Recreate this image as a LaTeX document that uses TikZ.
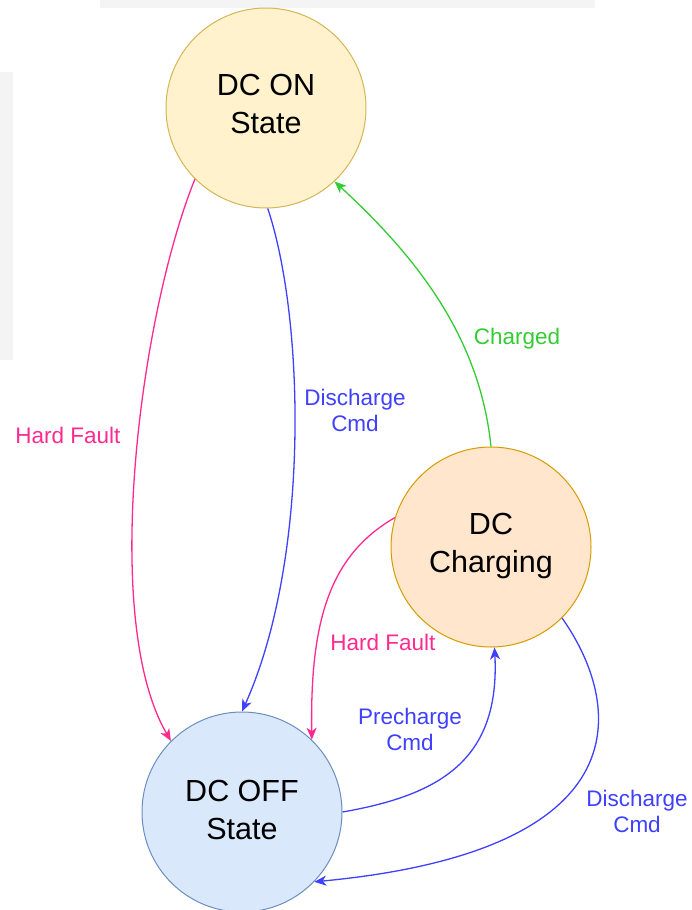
\documentclass[tikz,border=0pt]{standalone}
\usepackage{fontspec}
\setmainfont{Liberation Sans}
\usetikzlibrary{arrows.meta}
\definecolor{onfill}{HTML}{FFF2CC}
\definecolor{ondraw}{HTML}{D6B656}
\definecolor{offfill}{HTML}{DAE8FC}
\definecolor{offdraw}{HTML}{6C8EBF}
\definecolor{chfill}{HTML}{FFE6CC}
\definecolor{chdraw}{HTML}{D79B00}
\definecolor{pinkc}{HTML}{FF2A90}
\definecolor{bluec}{HTML}{4040FF}
\definecolor{greenc}{HTML}{33CC33}
\definecolor{shadowc}{HTML}{F4F4F4}
\tikzset{
  state/.style={circle, minimum size=200pt, inner sep=0pt, line width=1pt},
  statetext/.style={align=center, inner sep=0pt, font=\fontsize{30.5}{38}\selectfont},
  conn/.style={line width=1.3pt, -{Stealth[length=12pt,width=10pt,inset=3.5pt]}},
  lbl/.style={align=center, inner sep=0pt, font=\fontsize{22.5}{26}\selectfont}
}
\begin{document}
\begin{tikzpicture}[x=1pt,y=-1pt]
\useasboundingbox (0,0) rectangle (692,910);
\fill[white] (0,0) rectangle (692,910);
% faint background shadows
\fill[shadowc] (100,0) rectangle (595,8);
\fill[shadowc] (0,72) rectangle (13,360);
% states
\node[state, fill=onfill, draw=ondraw] (on) at (266,108) {};
\node[state, fill=offfill, draw=offdraw] (off) at (242,812) {};
\node[state, fill=chfill, draw=chdraw] (ch) at (491,547) {};
\node[statetext] (ont) at (266,104) {DC ON\\State};
\node[statetext] (offt) at (242,809.5) {DC OFF\\State};
\node[statetext] (cht) at (491,546) {DC\\Charging};
% connectors
\draw[conn, pinkc] (on.225) .. controls (140,315) and (100,620) .. (off.135);
\draw[conn, bluec] (on.271) .. controls (305,320) and (310,560) .. (off.90);
\draw[conn, greenc] (ch.90) .. controls (480,340) and (420,260) .. (on.313);
\draw[conn, pinkc] (ch.163) .. controls (330,555) and (310,620) .. (off.46);
\draw[conn, bluec] (off.0) .. controls (440,795) and (500,760) .. (ch.272);
\draw[conn, bluec] (ch.315) .. controls (620,700) and (650,850) .. (off.316);
% labels
\node[lbl, text=pinkc] (l1) at (68,435) {Hard Fault};
\node[lbl, text=bluec] (l2) at (355,410) {Discharge\\Cmd};
\node[lbl, text=greenc] (l3) at (517,339) {Charged};
\node[lbl, text=pinkc] (l4) at (383,642) {Hard Fault};
\node[lbl, text=bluec] (l5) at (410,729) {Precharge\\Cmd};
\node[lbl, text=bluec] (l6) at (637,811) {Discharge\\Cmd};
\end{tikzpicture}
\end{document}
